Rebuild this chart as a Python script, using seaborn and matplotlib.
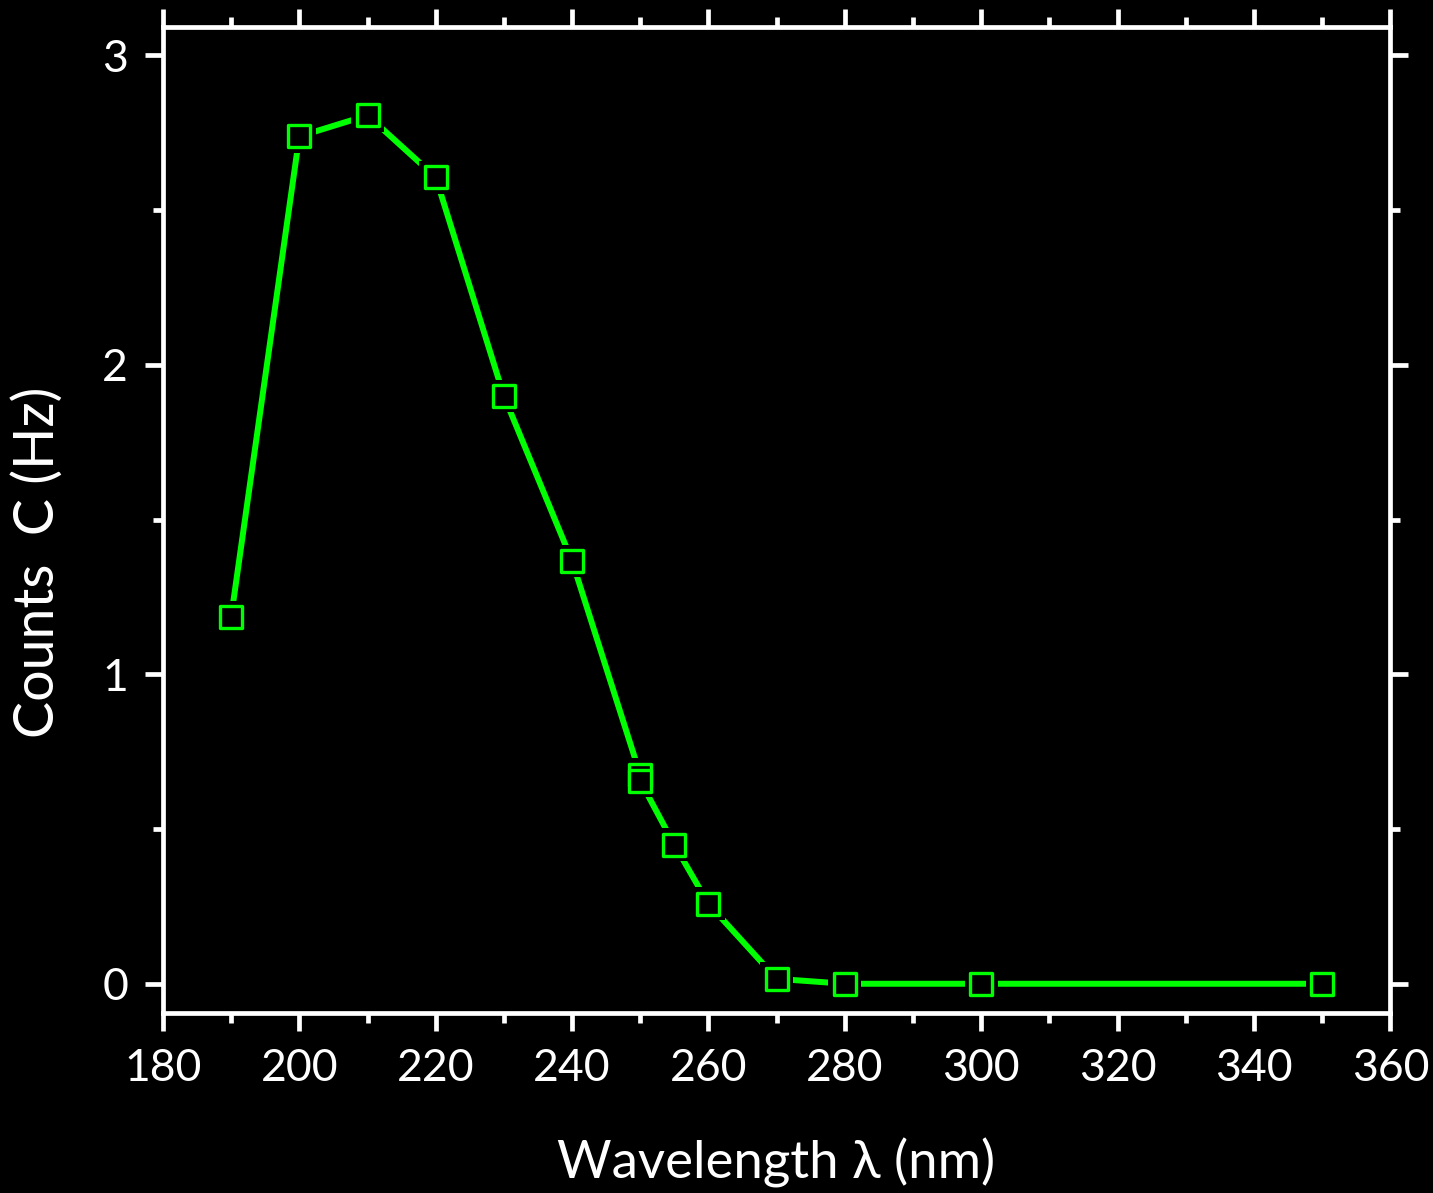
import matplotlib
matplotlib.use("Agg")
import matplotlib.pyplot as plt
import seaborn as sns
import pandas as pd
from matplotlib.ticker import MultipleLocator

wavelength = [190, 200, 210, 220, 230, 240, 250, 250, 255, 260, 270, 280, 300, 350]
counts = [1.185, 2.738, 2.806, 2.606, 1.899, 1.366, 0.675, 0.655, 0.449, 0.258, 0.016, 0.0, 0.0, 0.0]

df = pd.DataFrame({"wl": wavelength, "c": counts})

sns.set_style("dark")
plt.rcParams["font.family"] = ["Lato", "DejaVu Sans"]

fig = plt.figure(figsize=(14.33, 11.93), dpi=100, facecolor="black")
ax = fig.add_axes([0.1137, 0.151, 0.8566, 0.826])
ax.set_facecolor("black")

green = "#00ff00"
sns.lineplot(data=df, x="wl", y="c", estimator=None, sort=False, color=green,
             linewidth=4.3, ax=ax, zorder=2)
sns.scatterplot(data=df, x="wl", y="c", marker="s", s=560, color="black",
                edgecolor="none", ax=ax, zorder=3)
sns.scatterplot(data=df, x="wl", y="c", marker="s", s=240, facecolor="black",
                edgecolor=green, linewidth=2.4, ax=ax, zorder=4)

ax.set_xlim(180, 360)
ax.set_ylim(-0.094, 3.09)
ax.xaxis.set_major_locator(MultipleLocator(20))
ax.xaxis.set_minor_locator(MultipleLocator(10))
ax.yaxis.set_major_locator(MultipleLocator(1))
ax.yaxis.set_minor_locator(MultipleLocator(0.5))
ax.grid(False)

for s in ax.spines.values():
    s.set_visible(True)
    s.set_color("white")
    s.set_linewidth(3.4)

ax.tick_params(axis="both", which="both", direction="out", colors="white",
               top=True, right=True, bottom=True, left=True)
ax.tick_params(which="major", length=13, width=3.4, labelsize=32, pad=12)
ax.tick_params(which="minor", length=7, width=3.4)
ax.tick_params(axis="x", labeltop=False)
ax.tick_params(axis="y", labelright=False)
ax.set_xlabel("")
ax.set_ylabel("")

fig.text(776 / 1433, 1 - 1163 / 1193, "Wavelength λ (nm)", fontsize=38,
         color="white", ha="center", va="center")
fig.text(38 / 1433, 1 - 562 / 1193, "Counts  C (Hz)", fontsize=40,
         color="white", ha="center", va="center", rotation=90)

fig.savefig("out.png", dpi=100, facecolor="black")
